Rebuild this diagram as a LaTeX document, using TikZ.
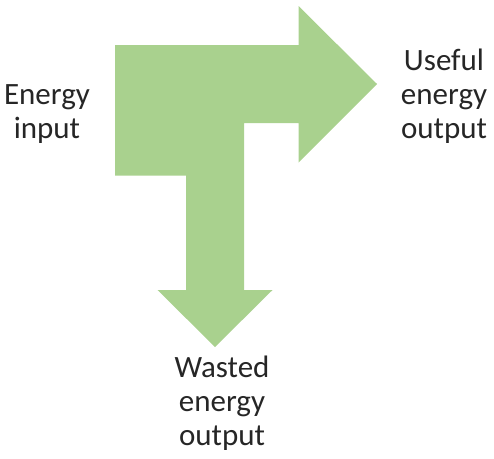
\documentclass[tikz,border=0pt]{standalone}
\usepackage{fontspec}
\setmainfont{Carlito}
\usepackage{tikz}
\usetikzlibrary{calc}
\definecolor{flowgreen}{HTML}{A9D18E}
\tikzset{label/.style={align=center,anchor=base,inner sep=0pt,text=black!85,
  font=\fontsize{31}{34}\selectfont}}

\begin{document}
\begin{tikzpicture}[x=1pt,y=-1pt]
\useasboundingbox (0,0) rectangle (494,458);
% the arrow
\fill[flowgreen] (115,45) -- (298.5,45) -- (298.5,6) -- (377,84) -- (298.5,162.5)
  -- (298.5,123) -- (244,123) -- (244,290) -- (272.5,290) -- (215,347)
  -- (157.5,290) -- (186,290) -- (186,175.5) -- (115,175.5) -- cycle;
% texts (base is the last line)
\node[label] (input) at (47,138) {Energy\\input};
\node[label] (useful) at (444,138) {Useful\\energy\\output};
\node[label] (wasted) at (222,445) {Wasted\\energy\\output};
\end{tikzpicture}
\end{document}
